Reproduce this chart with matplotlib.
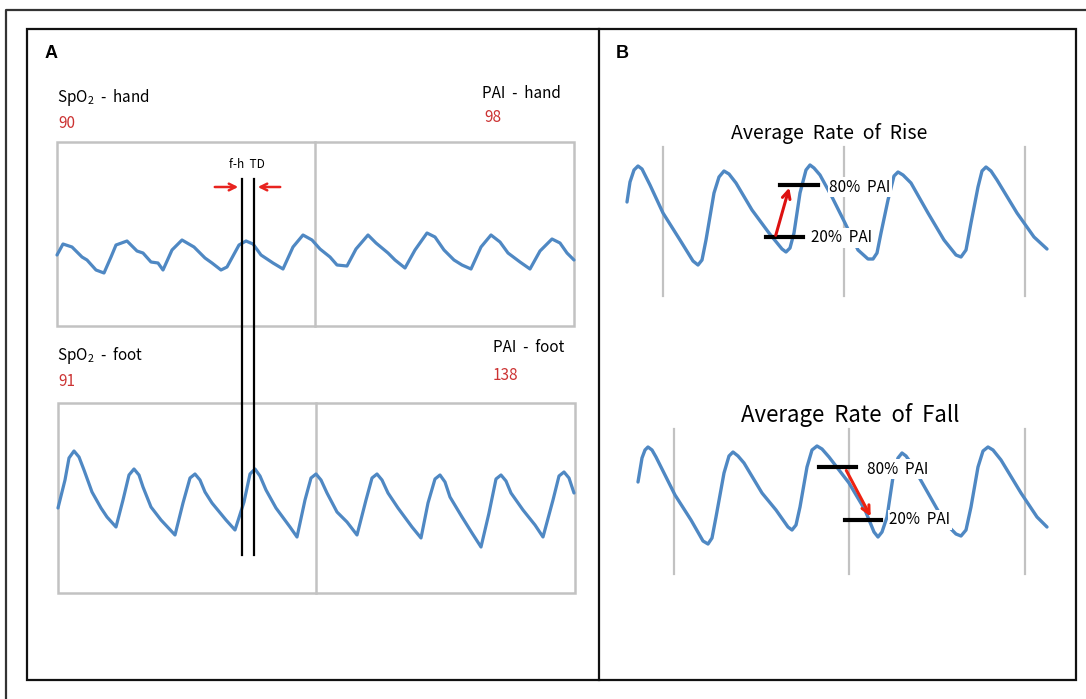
import numpy as np
import matplotlib
matplotlib.use("Agg")
import matplotlib.pyplot as plt
from matplotlib.patches import Rectangle

plt.rcParams['font.family'] = ['Noto Sans CJK KR', 'DejaVu Sans']
plt.rcParams['mathtext.fontset'] = 'custom'
plt.rcParams['mathtext.rm'] = 'Noto Sans CJK KR'
plt.rcParams['mathtext.it'] = 'Noto Sans CJK KR'

# --- data (pixel coords, y down) ---
hand_x = [57, 63, 72, 82, 87, 96, 104, 111, 116, 127, 137, 143, 151, 158, 163, 172, 182, 194, 205, 212,
          221, 227, 239, 246, 253, 261, 273, 283, 293, 303, 312, 320, 330, 337, 347, 356, 368, 376, 388, 395,
          405, 415, 427, 435, 444, 454, 462, 471, 481, 491, 500, 508, 520, 530, 540, 552, 560, 567, 574]
hand_y = [255, 244, 247, 257, 260, 270, 273, 257, 245, 241, 251, 253, 262, 263, 270, 250, 240, 247, 258, 263,
          270, 267, 245, 241, 244, 255, 263, 269, 247, 235, 240, 249, 257, 265, 266, 249, 235, 243, 253, 260,
          268, 250, 233, 237, 250, 260, 265, 269, 247, 235, 242, 253, 262, 269, 251, 239, 243, 253, 260]

foot_x = [58, 65, 69, 74, 79, 84, 92, 101, 107, 116, 123, 129, 134, 139, 143, 151, 161, 175, 183, 190,
          195, 200, 205, 212, 226, 235, 244, 250, 255, 260, 266, 276, 290, 297, 305, 311, 316, 321, 327, 337,
          347, 357, 366, 372, 377, 382, 388, 398, 412, 421, 428, 435, 440, 445, 450, 462, 472, 481, 489, 496,
          501, 506, 511, 523, 535, 543, 553, 559, 564, 569, 574]
foot_y = [508, 480, 458, 451, 457, 470, 492, 508, 517, 527, 500, 475, 469, 475, 487, 507, 520, 535, 503, 478,
          474, 480, 492, 503, 520, 530, 502, 474, 469, 476, 490, 508, 527, 537, 500, 478, 474, 480, 493, 512,
          522, 535, 500, 478, 474, 480, 493, 508, 527, 538, 503, 479, 475, 482, 497, 517, 533, 547, 513, 479,
          475, 481, 493, 510, 525, 537, 500, 476, 472, 478, 493]

rise_x = [627, 630, 634, 638, 642, 650, 663, 680, 693, 698, 702, 706, 714, 719, 724, 729, 736, 752, 769, 782,
          786, 790, 794, 800, 806, 810, 814, 820, 832, 845, 858, 868, 873, 877, 881, 888, 894, 898, 903, 911,
          928, 944, 956, 961, 966, 971, 978, 982, 986, 991, 997, 1017, 1034, 1047]
rise_y = [202, 182, 170, 166, 169, 185, 213, 240, 261, 265, 260, 240, 193, 177, 171, 174, 183, 210, 233, 249,
          252, 248, 233, 193, 170, 165, 168, 175, 197, 223, 250, 259, 259, 253, 233, 200, 176, 172, 175, 183,
          213, 240, 255, 257, 250, 223, 187, 171, 167, 171, 180, 213, 237, 249]

fall_x = [638, 642, 645, 648, 652, 656, 675, 691, 703, 708, 712, 716, 724, 729, 733, 738, 744, 762, 776, 788,
          792, 796, 800, 807, 812, 817, 822, 829, 849, 865, 874, 878, 882, 887, 893, 898, 902, 906, 911, 928,
          945, 956, 961, 966, 971, 978, 983, 988, 993, 1001, 1021, 1037, 1047]
fall_y = [482, 458, 450, 447, 450, 457, 495, 520, 541, 544, 538, 517, 473, 456, 452, 456, 463, 493, 510, 527,
          530, 525, 507, 467, 450, 446, 449, 457, 483, 510, 532, 537, 532, 517, 477, 458, 453, 456, 463, 493,
          523, 534, 536, 530, 507, 467, 451, 447, 450, 460, 493, 517, 527]

spo2_hand, pai_hand = "90", "98"
spo2_foot, pai_foot = "91", "138"
beat_lines_rise = [663, 844, 1025]
beat_lines_fall = [674, 849, 1025]

blue = '#4f88c3'
red_txt = '#cc3333'
red = '#e8231f'
grey = '#c2c2c2'

fig = plt.figure(figsize=(10.86, 6.99), dpi=100)
ax = fig.add_axes([0, 0, 1, 1])
ax.set_xlim(0, 1086)
ax.set_ylim(699, 0)
ax.axis('off')

# frames
ax.plot([6, 6, 1090], [705, 10, 10], color='#333333', lw=1.6)
ax.add_patch(Rectangle((27, 29), 1049, 651, fill=False, ec='#111111', lw=1.6))
ax.plot([599, 599], [29, 680], color='#111111', lw=1.6)

# ---------------- panel A ----------------
ax.text(45, 54, 'A', fontsize=13, fontweight='bold', family='Liberation Sans', va='center')
for (x0, y0, x1, y1, xm) in [(57, 142, 574, 326, 315), (58, 403, 575, 593, 316)]:
    ax.add_patch(Rectangle((x0, y0), x1 - x0, y1 - y0, fill=False, ec=grey, lw=1.8))
    ax.plot([xm, xm], [y0, y1], color=grey, lw=1.8)

ax.plot(hand_x, hand_y, color=blue, lw=2.3, solid_joinstyle='round', solid_capstyle='round')
ax.plot(foot_x, foot_y, color=blue, lw=2.3, solid_joinstyle='round', solid_capstyle='round')

ax.text(57, 98, r'SpO$_2$  -  hand', fontsize=11, va='center')
ax.text(58, 123, spo2_hand, fontsize=11, va='center', color=red_txt)
ax.text(482, 93, 'PAI  -  hand', fontsize=11, va='center')
ax.text(484, 117, pai_hand, fontsize=11, va='center', color=red_txt)
ax.text(57, 355, r'SpO$_2$  -  foot', fontsize=11, va='center')
ax.text(58, 382, spo2_foot, fontsize=11, va='center', color=red_txt)
ax.text(493, 348, 'PAI  -  foot', fontsize=11, va='center')
ax.text(493, 375, pai_foot, fontsize=11, va='center', color=red_txt)

ax.plot([242, 242], [179, 555], color='black', lw=1.6, zorder=4)
ax.plot([254, 254], [179, 555], color='black', lw=1.6, zorder=4)
ax.text(247, 165, 'f-h  TD', fontsize=8.5, ha='center', va='center')
ax.annotate('', xy=(241, 187), xytext=(212, 187),
            arrowprops=dict(arrowstyle='->', color=red, lw=1.8, mutation_scale=12))
ax.annotate('', xy=(255, 187), xytext=(283, 187),
            arrowprops=dict(arrowstyle='->', color=red, lw=1.8, mutation_scale=12))

# ---------------- panel B ----------------
ax.text(616, 54, 'B', fontsize=13, fontweight='bold', family='Liberation Sans', va='center')

ax.text(829, 133, 'Average  Rate  of  Rise', fontsize=14, ha='center', va='center')
for xv in beat_lines_rise:
    ax.plot([xv, xv], [147, 296], color=grey, lw=1.6, zorder=1)
ax.plot(rise_x, rise_y, color=blue, lw=2.4, solid_joinstyle='round', solid_capstyle='round', zorder=2)
ax.plot([780, 818], [185, 185], color='black', lw=3, zorder=4)
ax.plot([766, 803], [237, 237], color='black', lw=3, zorder=4)
ax.annotate('', xy=(790, 185), xytext=(775, 238),
            arrowprops=dict(arrowstyle='->', color='#dd1111', lw=2.2, mutation_scale=14), zorder=5)
ax.text(829, 187, '80%  PAI', fontsize=11, va='center', zorder=3,
        bbox=dict(fc='white', ec='none', pad=1))
ax.text(811, 238, '20%  PAI', fontsize=11, va='center', zorder=3,
        bbox=dict(fc='white', ec='none', pad=1))

ax.text(850, 415, 'Average  Rate  of  Fall', fontsize=16, ha='center', va='center')
for xv in beat_lines_fall:
    ax.plot([xv, xv], [429, 574], color=grey, lw=1.6, zorder=1)
ax.plot(fall_x, fall_y, color=blue, lw=2.4, solid_joinstyle='round', solid_capstyle='round', zorder=2)
ax.plot([819, 856], [467, 467], color='black', lw=3, zorder=4)
ax.plot([845, 881], [520, 520], color='black', lw=3, zorder=4)
ax.annotate('', xy=(872, 519), xytext=(845, 468),
            arrowprops=dict(arrowstyle='->', color='#ee2211', lw=2.2, mutation_scale=14), zorder=5)
ax.text(867, 469, '80%  PAI', fontsize=11, va='center', zorder=3,
        bbox=dict(fc='white', ec='none', pad=1))
ax.text(889, 520, '20%  PAI', fontsize=11, va='center', zorder=3,
        bbox=dict(fc='white', ec='none', pad=1))

fig.savefig('out.png', dpi=100)
